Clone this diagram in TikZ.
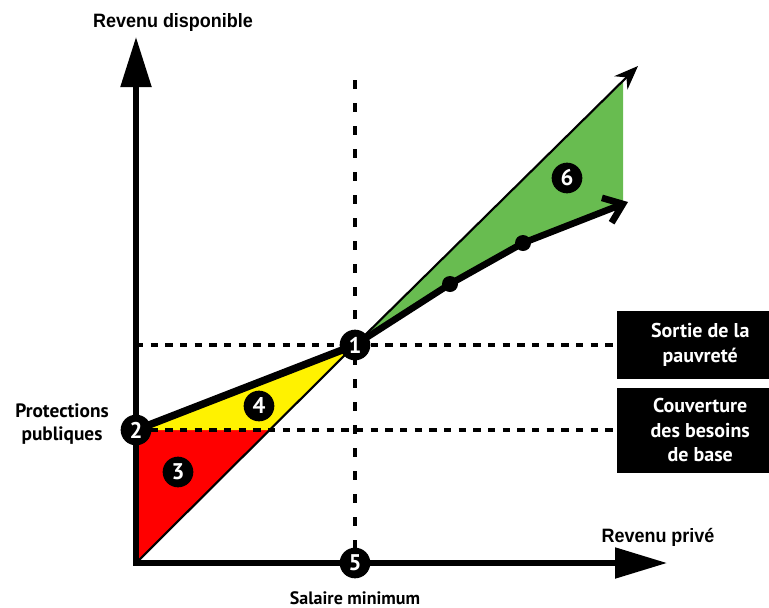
\documentclass[tikz,border=0pt]{standalone}
\usepackage{fontspec}
\setmainfont{Liberation Sans}
\newfontfamily\axfont[FakeStretch=0.93]{Liberation Sans}
\newfontfamily\lblfont{PT Sans}
\usetikzlibrary{arrows.meta}
\definecolor{gfill}{RGB}{104,188,80}
\tikzset{
  axislbl/.style={font=\axfont\bfseries\fontsize{14.5}{16}\selectfont, inner sep=0pt},
  sidelbl/.style={font=\lblfont\bfseries\fontsize{14.5}{17}\selectfont, inner sep=0pt, align=center},
  boxlbl/.style={fill=black, text=white, font=\lblfont\bfseries\fontsize{15}{18.5}\selectfont, align=center, minimum width=124.5pt, inner sep=0pt},
  numc/.style={circle, fill=black, text=white, minimum size=23pt, inner sep=0pt, font=\lblfont\bfseries\fontsize{17}{17}\selectfont},
  kdot/.style={circle, fill=black, minimum size=12pt, inner sep=0pt},
  hdash/.style={line width=2.5pt, dash pattern=on 5.5pt off 5.5pt},
  vdash/.style={line width=2.5pt, dash pattern=on 6.75pt off 10.5pt},
  axisln/.style={line width=3.9pt, line join=miter},
}
\begin{document}
\begin{tikzpicture}[x=0.75pt, y=-0.75pt]
\useasboundingbox (0,0) rectangle (769,608);
% key points
\coordinate (O) at (136,563);
\coordinate (ytop) at (136,37);
\coordinate (xend) at (667,563);
\coordinate (P1) at (355,345);
\coordinate (P2) at (136,430);
\coordinate (Q) at (270,430);
\coordinate (U) at (638,66);
\coordinate (G1) at (623,82);
\coordinate (G2) at (623,202);
\coordinate (D1) at (450,284);
\coordinate (D2) at (523,243);
\coordinate (L) at (628,202);
\coordinate (yA) at (136,345);
\coordinate (vtop) at (355,80);
% fills
\fill[red] (O) -- (P2) -- (Q) -- cycle;
\fill[yellow] (P2) -- (P1) -- (Q) -- cycle;
\fill[gfill] (P1) -- (G1) -- (G2) -- (D2) -- (D1) -- cycle;
% boxes
\node[boxlbl, minimum height=51pt, anchor=west] (B1) at (617,345) {Sortie de la\\pauvreté};
\node[boxlbl, minimum height=63.75pt, anchor=west] (B2) at (617,430) {Couverture\\des besoins\\de base};
% circle 5 position for dashed line
\coordinate (C5) at (355,563);
% dashed lines
\draw[hdash] (yA) -- (B1.west);
\draw[hdash] (P2) -- (B2.west);
\draw[vdash] (vtop) -- (C5);
% axes
\draw[axisln, {Triangle[length=37.5pt,width=22.5pt]}-{Triangle[length=39pt,width=22.5pt]}] (ytop) -- (O) -- (xend);
% diagonal
\draw[line width=1.6pt, -{Stealth[length=18pt,width=14pt]}] (O) -- (P1) -- (U);
% thick lines
\draw[line width=5.6pt, line cap=round] (P2) -- (P1);
\draw[line width=5pt, line join=round, -{Straight Barb[length=13pt,width=20pt]}] (P1) -- (D1) -- (D2) -- (L);
\node[kdot] (d1) at (D1) {};
\node[kdot] (d2) at (D2) {};
% numbered circles
\node[numc] (n1) at (P1) {1};
\node[numc] (n2) at (P2) {2};
\node[numc] (n3) at (178,472) {3};
\node[numc] (n4) at (259,406) {4};
\node[numc] (n5) at (C5) {5};
\node[numc] (n6) at (567,178) {6};
% labels
\node[axislbl] (ly) at (173,22) {Revenu disponible};
\node[axislbl] (lx) at (658,537) {Revenu privé};
\node[sidelbl] (lp) at (62,424) {Protections\\publiques};
\node[sidelbl, font=\lblfont\bfseries\fontsize{13.5}{16}\selectfont] (ls) at (355,598) {Salaire minimum};
\end{tikzpicture}
\end{document}
